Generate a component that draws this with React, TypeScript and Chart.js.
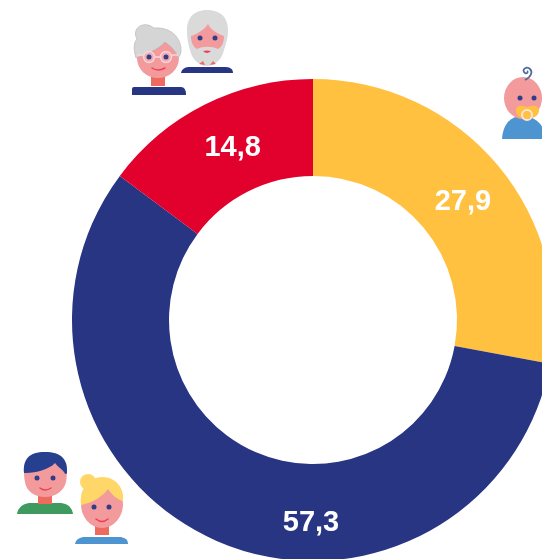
import React, { useEffect, useRef } from "react";
import { Chart, registerables } from "chart.js";

Chart.register(...registerables);

const categories = ["Jeunes", "Adultes", "Seniors"];
const values = [27.9, 57.3, 14.8];
const labels = ["27,9", "57,3", "14,8"];
const colors = ["#FFC13F", "#283583", "#E2002C"];
const labelNudges = [[2, 5], [75, 27], [6, 0]];

const PINK = "#F39A9D";
const NECK = "#EE6A5E";
const NAVY = "#283583";
const EYE = "#2F3E86";
const SMILE = "#EE3F55";

const labelPlugin = {
  id: "sliceLabels",
  afterDatasetsDraw(chart: any) {
    const { ctx } = chart;
    const arcs = chart.getDatasetMeta(0).data;
    ctx.save();
    ctx.font = "bold 29px 'Liberation Sans'";
    ctx.fillStyle = "#FFFFFF";
    ctx.textAlign = "center";
    ctx.textBaseline = "middle";
    arcs.forEach((arc: any, i: number) => {
      const p = arc.getCenterPoint();
      ctx.fillText(labels[i], p.x + labelNudges[i][0], p.y + labelNudges[i][1]);
    });
    ctx.restore();
  },
};

function Icons() {
  return (
    <svg width={542} height={559} style={{ position: "absolute", left: 0, top: 0 }}>
      {/* old man */}
      <path d="M181 73 C182 68 186 67 190 67 H224 C229 67 233 68 233 73 Z" fill={NAVY} />
      <path d="M187 30 C187 16 196 10 207 10 C219 10 228 16 228 30 C228 38 226 44 224 50 C222 60 214 66 207 66 C200 66 192 60 190 50 C188 44 187 38 187 30 Z" fill="#DADADA" />
      <path d="M191 36 C197 34 204 30 208 24 C211 30 218 34 224 36 C224 42 222 47 218 49 C212 46 203 46 197 49 C193 47 191 42 191 36 Z" fill={PINK} />
      <circle cx={200} cy={38} r={2.5} fill={EYE} />
      <circle cx={215} cy={38} r={2.5} fill={EYE} />
      <path d="M203 51 Q207 50 211 51 Q207 55 203 51 Z" fill={SMILE} />
      <path d="M199 64 L203 61 L205 65 Z M210 65 L213 61 L216 64 Z" fill={NECK} />
      {/* old woman */}
      <rect x={151} y={74} width={14} height={12} fill={NECK} />
      <path d="M132 95 V89 Q132 87 134 87 H181 Q186 87 186 95 Z" fill={NAVY} />
      <ellipse cx={158} cy={58} rx={21} ry={20} fill={PINK} />
      <path d="M136 58 C133 48 134 42 137 39 C132 30 140 23 148 25 C152 26 153 28 155 28 C170 27 182 37 181 52 C180 56 179 57 178 58 C176 50 170 46 165 42 C158 50 146 54 136 58 Z" fill="#D5D5D5" stroke="#B5B0B0" strokeWidth={0.6} />
      <circle cx={149} cy={57} r={5.5} fill="#F8C9CE" fillOpacity={0.4} stroke="#F7D5DA" strokeWidth={1.4} />
      <circle cx={166} cy={57} r={5.5} fill="#F8C9CE" fillOpacity={0.4} stroke="#F7D5DA" strokeWidth={1.4} />
      <path d="M137 55 H143 M154.5 57 H160.5 M172 55 H178" stroke="#F7D5DA" strokeWidth={1.4} />
      <circle cx={149} cy={57} r={2.5} fill={EYE} />
      <circle cx={166} cy={57} r={2.5} fill={EYE} />
      <path d="M152 68 Q158 72 165 68" stroke={SMILE} strokeWidth={1.5} fill="none" strokeLinecap="round" />
      {/* baby */}
      <path d="M502 139 C503 125 510 116 522 116 C535 116 545 125 546 139 Z" fill="#4E94D0" />
      <ellipse cx={523} cy={98} rx={19} ry={21} fill={PINK} />
      <path d="M525 80 C531 77 533 72 530 69 C527 66 522 69 524 72 C526 75 529 72 527 71" stroke="#4E6A9C" strokeWidth={1.8} fill="none" />
      <circle cx={520} cy={98} r={2.5} fill={EYE} />
      <circle cx={534} cy={98} r={2.5} fill={EYE} />
      <path d="M516 110 C518 103 524 107 527 107 C530 107 537 103 539 110 C539 116 534 118 527 119 C520 118 516 116 516 110 Z" fill="#FFC13F" />
      <circle cx={527} cy={115} r={5} fill="none" stroke="#FBE6D8" strokeWidth={2} />
      {/* man */}
      <path d="M17 514 C18 507 24 503 31 503 H59 C67 503 72 507 73 514 Z" fill="#3F9A5E" />
      <rect x={38} y={494} width={14} height={10} fill={NECK} />
      <path d="M24 470 C24 462 26 463 66 463 C67 470 67 478 66 482 C64 491 55 497 45 497 C35 497 26 491 25 482 C24 478 24 474 24 470 Z" fill={PINK} />
      <path d="M24 473 C23 459 29 452 45 452 C61 452 68 459 67 473 C66 475 65 474 64 472 C62 469 58 467 55 463 C50 469 36 473 26 473 Z" fill="#263F8E" />
      <circle cx={37} cy={478} r={2.5} fill={EYE} />
      <circle cx={53} cy={478} r={2.5} fill={EYE} />
      <path d="M40 488 Q45 492 51 488" stroke={SMILE} strokeWidth={1.5} fill="none" strokeLinecap="round" />
      {/* woman */}
      <path d="M75 544 C76 539 80 537 85 537 H119 C124 537 128 539 128 544 Z" fill="#4E94D0" />
      <rect x={95} y={524} width={14} height={11} fill={NECK} />
      <ellipse cx={102} cy={504} rx={21} ry={24} fill={PINK} />
      <circle cx={88} cy={482} r={8} fill="#FFD769" />
      <path d="M81 505 C79 490 88 477 103 477 C115 477 125 488 123 501 C118 500 112 495 108 489 C102 497 92 503 81 505 Z" fill="#FFD769" />
      <circle cx={94} cy={507} r={2.5} fill={EYE} />
      <circle cx={109} cy={507} r={2.5} fill={EYE} />
      <path d="M96 519 Q102 524 108 519" stroke={SMILE} strokeWidth={1.5} fill="none" strokeLinecap="round" />
    </svg>
  );
}

export default function App() {
  const ref = useRef<HTMLCanvasElement>(null);
  useEffect(() => {
    const chart = new Chart(ref.current!, {
      type: "doughnut",
      data: {
        labels: categories,
        datasets: [{ data: values, backgroundColor: colors, borderWidth: 0 }],
      },
      options: {
        animation: false,
        responsive: false,
        radius: 241,
        cutout: "59.75%",
        layout: { padding: 0 },
        plugins: { legend: { display: false }, tooltip: { enabled: false } },
      },
      plugins: [labelPlugin],
    } as any);
    return () => chart.destroy();
  }, []);
  return (
    <div style={{ position: "fixed", left: 0, top: 0, width: 542, height: 559, overflow: "hidden", background: "#fff" }}>
      <canvas ref={ref} width={626} height={640} style={{ position: "absolute", left: 0, top: 0, width: 626, height: 640 }} />
      <Icons />
    </div>
  );
}
